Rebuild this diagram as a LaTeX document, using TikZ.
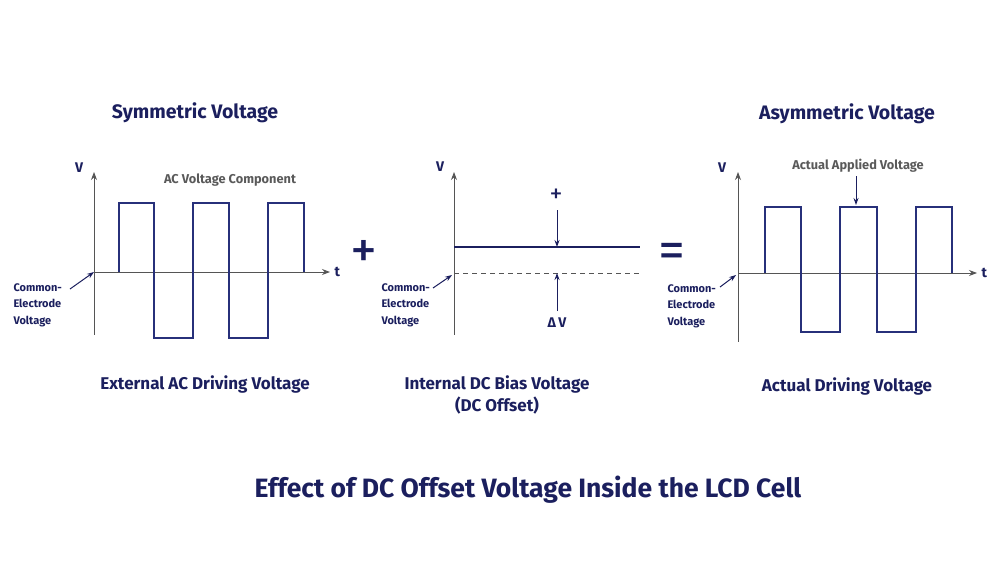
\documentclass[tikz,border=0pt]{standalone}
\usepackage{fontspec}
\setmainfont{Fira Sans}
\usepackage{tikz}
\usetikzlibrary{arrows.meta,positioning}
\definecolor{navy}{HTML}{1B1F5E}
\definecolor{wave}{HTML}{27307A}
\definecolor{axisgray}{HTML}{555555}
\definecolor{labelgray}{HTML}{5A5A5A}

\begin{document}
\begin{tikzpicture}[
  x=1pt,y=-1pt,
  every node/.style={text=navy,font=\bfseries},
  heading/.style={font=\fontsize{19.5}{22}\selectfont\bfseries},
  caption/.style={font=\fontsize{17}{22}\selectfont\bfseries,align=center},
  smalllbl/.style={font=\fontsize{11}{16.5}\selectfont\bfseries,align=left,anchor=west},
  graylbl/.style={text=labelgray,font=\fontsize{12.8}{14}\selectfont\bfseries},
  axislbl/.style={font=\fontsize{14}{16}\selectfont\bfseries},
  axis/.style={axisgray,line width=0.9pt,-{Stealth[length=8pt,width=6pt]}},
  wavepath/.style={wave,line width=1.4pt,line join=miter},
  ptr/.style={navy,line width=1pt,-{Stealth[length=7pt,width=5pt]}},
  opsym/.style={font=\fontsize{54}{54}\selectfont\mdseries}
]
\useasboundingbox[fill=white] (0,0) rectangle (1000,563);

% Panel 1 — symmetric AC voltage
\coordinate (O1) at (94,272);
\coordinate (V1) at (94,172);
\coordinate (T1) at (330,272);
\draw[axisgray,line width=0.9pt] (O1) -- (94,335);
\draw[axis] (O1) -- (V1);
\draw[axis] (O1) -- (T1);
\draw[wavepath] (119,272) -- (119,203) -- (154,203) -- (154,338)
  -- (193,338) -- (193,203) -- (229,203) -- (229,338) -- (268,338)
  -- (268,203) -- (304,203) -- (304,272);
\node[axislbl] (V1lbl) at (79,168) {V};
\node[axislbl,right=1pt of T1] (T1lbl) {t};
\node[graylbl] (AClbl) at (230,180) {AC Voltage Component};
\node[smalllbl] (CE1) at (10,305) {Common-\\Electrode\\Voltage};
\draw[ptr] (70,289) -- (O1);
\node[heading] (H1) at (195,113) {Symmetric Voltage};
\node[caption] (C1) at (205,384) {External AC Driving Voltage};

% Operator +
\node[opsym] (plus) at (364,254) {+};

% Panel 2 — DC bias
\coordinate (O2) at (454,273);
\coordinate (V2) at (454,172);
\draw[axisgray,line width=0.9pt] (O2) -- (454,335);
\draw[axis] (O2) -- (V2);
\coordinate (B2) at (454,247);
\coordinate (B2e) at (640,247);
\draw[navy,line width=2pt] (B2) -- (B2e);
\draw[axisgray,line width=0.9pt,dash pattern=on 5pt off 4pt] (O2) -- (640,273);
\node[axislbl] (V2lbl) at (440,167) {V};
\node[font=\fontsize{26}{26}\selectfont\mdseries] (pluslbl) at (556,196) {+};
\node[axislbl] (dVlbl) at (557,323) {Δ\,V};
\coordinate (dTop) at (557,247);
\coordinate (dBot) at (557,273);
\draw[ptr] (557,210) -- (dTop);
\draw[ptr] (557,311) -- (dBot);
\node[smalllbl] (CE2) at (378,305) {Common-\\Electrode\\Voltage};
\draw[ptr] (433,288) -- (452,275);
\node[caption] (C2) at (497,395) {Internal DC Bias Voltage\\(DC Offset)};

% Operator =
\node[opsym] (equals) at (672,256) {=};

% Panel 3 — asymmetric voltage
\coordinate (O3) at (738,273);
\coordinate (V3) at (738,172);
\coordinate (T3) at (977,273);
\draw[axisgray,line width=0.9pt] (O3) -- (738,342);
\draw[axis] (O3) -- (V3);
\draw[axis] (O3) -- (T3);
\draw[wavepath] (765,273) -- (765,207) -- (801,207) -- (801,332)
  -- (840,332) -- (840,207) -- (877,207) -- (877,332) -- (916,332)
  -- (916,207) -- (952,207) -- (952,273);
\node[axislbl] (V3lbl) at (722,168) {V};
\node[axislbl,right=1pt of T3] (T3lbl) {t};
\node[graylbl] (AAlbl) at (858,166) {Actual Applied Voltage};
\coordinate (peak) at (856,205);
\draw[ptr] (AAlbl.south -| peak) -- (peak);
\node[smalllbl] (CE3) at (664,306) {Common-\\Electrode\\Voltage};
\draw[ptr] (720,287) -- (736,275);
\node[heading] (H3) at (847,114) {Asymmetric Voltage};
\node[caption] (C3) at (847,386) {Actual Driving Voltage};

% Main title
\node[font=\fontsize{26.5}{30}\selectfont\bfseries] (title) at (528,490)
  {Effect of DC Offset Voltage Inside the LCD Cell};
\end{tikzpicture}
\end{document}
